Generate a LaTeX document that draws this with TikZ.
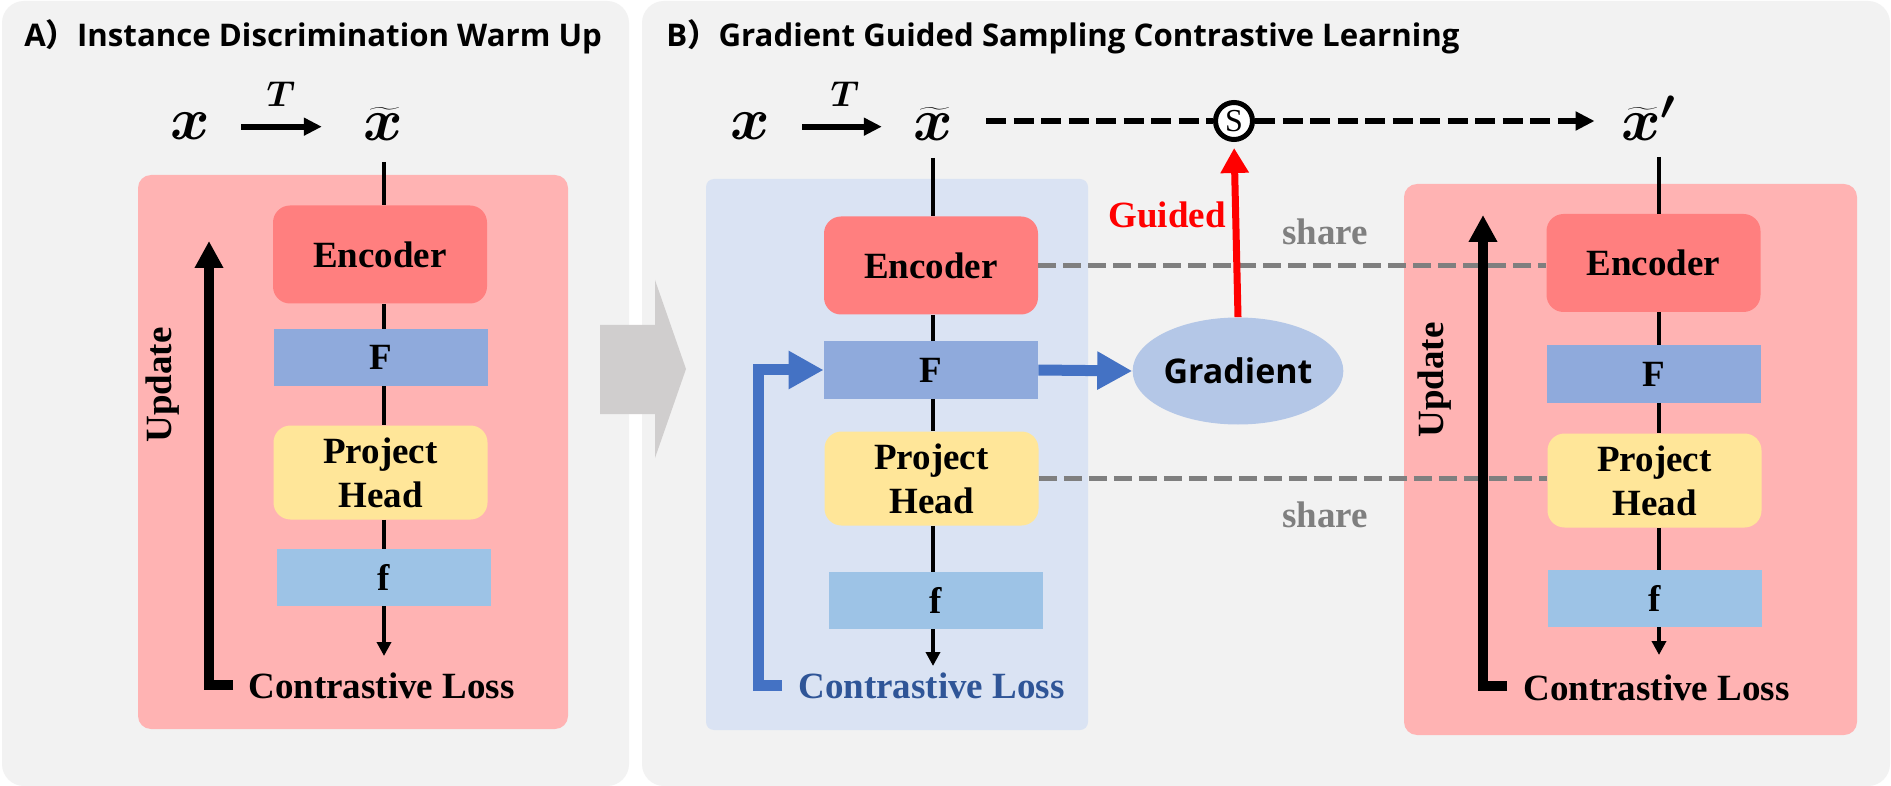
\RequirePackage{fix-cm}
\documentclass[tikz,border=0pt]{standalone}
\usepackage{fontspec}
\setmainfont{Liberation Serif}
\newfontfamily\opensans{Open Sans}
\newfontfamily\cjkfont{Noto Sans CJK SC}
\usetikzlibrary{arrows.meta,shapes.geometric}
\definecolor{panelgray}{HTML}{F2F2F2}
\definecolor{pinkbg}{HTML}{FFB3B3}
\definecolor{encred}{HTML}{FF7F7F}
\definecolor{featblue}{HTML}{8FAADC}
\definecolor{phyellow}{HTML}{FFE699}
\definecolor{outblue}{HTML}{9DC3E6}
\definecolor{bluepanel}{HTML}{DAE3F3}
\definecolor{gradblue}{HTML}{B4C7E7}
\definecolor{arrowblue}{HTML}{4472C4}
\definecolor{lossblue}{HTML}{2F5597}
\definecolor{sharegray}{HTML}{7F7F7F}
\definecolor{bigarrow}{HTML}{D0CECE}
\newcommand{\lblfont}{\bfseries\fontsize{18.5}{22}\selectfont}
\newcommand{\mathxfont}{\fontsize{30}{30}\selectfont\mathversion{bold}}
\tikzset{
 box/.style={minimum width=107pt, inner sep=0pt, font=\lblfont},
 encbox/.style={box, fill=encred, rounded corners=8.5pt, minimum height=49pt},
 featbox/.style={box, fill=featblue, minimum height=28.5pt},
 projbox/.style={box, fill=phyellow, rounded corners=8.5pt, minimum height=47pt, align=center},
 outbox/.style={box, fill=outblue, minimum height=28.5pt},
 vline/.style={line width=2pt, draw=black},
 downarrow/.style={vline, -{Triangle[width=7pt,length=7pt]}},
 losslabel/.style={font=\lblfont, anchor=base, inner sep=0pt},
 updarrow/.style={line width=5pt, line join=miter, -{Triangle[width=13.5pt,length=13.5pt]}},
 updlabel/.style={font=\lblfont, rotate=90, inner sep=0pt},
 mathx/.style={font=\mathxfont, anchor=base, inner sep=0pt},
 tlabel/.style={font=\fontsize{18}{18}\selectfont\mathversion{bold}, anchor=base, inner sep=0pt},
 tarrow/.style={line width=3pt, -{Triangle[width=8.5pt,length=9pt]}},
 titletext/.style={font=\opensans\bfseries\fontsize{15.6}{18}\selectfont, anchor=base west, inner sep=0pt},
 sharedash/.style={draw=sharegray, line width=2.5pt, dash pattern=on 9pt off 3.5pt},
 sharelabel/.style={font=\lblfont, text=sharegray, anchor=base, inner sep=0pt},
 blackdash/.style={line width=3pt, dash pattern=on 10pt off 3.75pt},
 bluearrow/.style={draw=arrowblue, line width=5.5pt, line join=miter, -{Triangle[width=18pt,length=17.5pt]}},
 redarrow/.style={draw=red, line width=3.5pt, -{Triangle[width=13.5pt,length=12.5pt]}},
}
\begin{document}
\begin{tikzpicture}[x=0.5pt,y=-0.5pt]
\useasboundingbox (0,0) rectangle (1891,786);
\fill[white] (0,0) rectangle (1891,786);
% panels
\fill[panelgray, rounded corners=11pt] (2,1) rectangle (629,786);
\fill[panelgray, rounded corners=11pt] (642,1) rectangle (1890,786);
\fill[pinkbg, rounded corners=6.5pt] (138,175) rectangle (568,729);
\fill[bluepanel, rounded corners=4pt] (706,179) rectangle (1088,730);
\fill[pinkbg, rounded corners=6.5pt] (1404,184) rectangle (1857,735);
% big arrow
\fill[bigarrow] (600,325) -- (655,325) -- (655,280) -- (686,369) -- (655,458) -- (655,414) -- (600,414) -- cycle;
% titles
\node[titletext] (titA) at (24,47) {A{\cjkfont ）}Instance Discrimination Warm Up};
\node[titletext] (titB) at (666,47) {B{\cjkfont ）}Gradient Guided Sampling Contrastive Learning};

% ---------------- panel A
\node[mathx] (xA) at (190,140) {$x$};
\node[mathx] (xtA) at (383,141) {$\widetilde{x}$};
\node[tlabel] (TA) at (281,107) {$T$};
\draw[tarrow, shorten <=15.5pt, shorten >=20.5pt] (xA.east) -- (xA.east -| xtA.west);
\coordinate (topA) at (384,162);
\node[encbox] (encA) at (380,254.5) {Encoder};
\node[featbox] (FA) at (381,357.5) {F};
\node[projbox] (phA) at (380.5,472.5) {Project\\Head};
\node[outbox] (fA) at (384,577.5) {f};
\coordinate (tipA) at (384,656);
\draw[vline] (topA) -- (topA |- encA.north);
\draw[vline] (encA.south -| topA) -- (FA.north -| topA);
\draw[vline] (FA.south -| topA) -- (phA.north -| topA);
\draw[vline] (phA.south -| topA) -- (fA.north -| topA);
\draw[downarrow] (fA.south -| topA) -- (tipA);
\node[losslabel] (lossA) at (381.5,698) {Contrastive Loss};
\coordinate (footA) at (233,685);
\coordinate (cornA) at (209,685);
\coordinate (headA) at (209,241);
\draw[updarrow] (footA) -- (cornA) -- (headA);
\node[updlabel] (updA) at (163,385) {Update};

% ---------------- panel B
\node[mathx] (xB) at (750,140) {$x$};
\node[mathx] (xtB) at (933,141) {$\widetilde{x}$};
\node[tlabel] (TB) at (845,107) {$T$};
\draw[tarrow, shorten <=16pt, shorten >=15.5pt] (xB.east) -- (xB.east -| xtB.west);
\coordinate (topB) at (933,158);
\node[encbox] (encB) at (931,265.5) {Encoder};
\node[featbox] (FB) at (931,370) {F};
\node[projbox] (phB) at (931.5,478.5) {Project\\Head};
\node[outbox] (fB) at (935.5,600.5) {f};
\coordinate (tipB) at (933,666);
\draw[vline] (topB) -- (topB |- encB.north);
\draw[vline] (encB.south -| topB) -- (FB.north -| topB);
\draw[vline] (FB.south -| topB) -- (phB.north -| topB);
\draw[vline] (phB.south -| topB) -- (fB.north -| topB);
\draw[downarrow] (fB.south -| topB) -- (tipB);
\node[losslabel, text=lossblue] (lossB) at (931.5,698) {Contrastive Loss};
\coordinate (footB) at (782,685);
\coordinate (cornB) at (758,685);
\coordinate (cornB2) at (758,370);
\draw[bluearrow] (footB) -- (cornB) -- (cornB2) -- (FB.west);

% ---------------- panel C
\node[mathx] (xtC) at (1648.5,141) {$\widetilde{x}'$};
\coordinate (topC) at (1659,157);
\node[encbox] (encC) at (1653.5,263) {Encoder};
\node[featbox] (FC) at (1654,374) {F};
\node[projbox] (phC) at (1654.5,480.5) {Project\\Head};
\node[outbox] (fC) at (1654.5,598.5) {f};
\coordinate (tipC) at (1659,655);
\draw[vline] (topC) -- (topC |- encC.north);
\draw[vline] (encC.south -| topC) -- (FC.north -| topC);
\draw[vline] (FC.south -| topC) -- (phC.north -| topC);
\draw[vline] (phC.south -| topC) -- (fC.north -| topC);
\draw[downarrow] (fC.south -| topC) -- (tipC);
\node[losslabel] (lossC) at (1656.5,700) {Contrastive Loss};

% ---------------- middle
\node[circle, draw, line width=2.5pt, fill=white, minimum size=18.5pt, inner sep=0pt,
      font=\fontsize{16}{16}\selectfont] (S) at (1234,121) {S};
\node[ellipse, fill=gradblue, minimum width=94.5pt, minimum height=53.5pt, inner sep=0pt,
      font=\opensans\bfseries\fontsize{17}{17}\selectfont] (grad) at (1238,371) {Gradient};
\draw[sharedash] (encB.east) -- (encB.east -| encC.west);
\draw[sharedash] (phB.east) -- (phB.east -| phC.west);
\node[sharelabel] (share1) at (1325,245) {share};
\node[sharelabel] (share2) at (1325,527) {share};
\coordinate (footC) at (1507,686);
\coordinate (cornC) at (1483,686);
\coordinate (headC) at (1483,215);
\draw[updarrow] (footC) -- (cornC) -- (headC);
\node[updlabel] (updC) at (1435,380) {Update};
\draw[blackdash, shorten <=16.5pt] (xtB.east |- S.west) -- (S.west);
\draw[blackdash, -{Triangle[width=9pt,length=9.5pt]}, shorten >=13pt] (S.east) -- (S.east -| xtC.west);
\draw[bluearrow] (FB.east) -- (grad.west);
\draw[redarrow, shorten >=3pt] (grad.north) -- (S.south);
\node[font=\lblfont, text=red, anchor=base east, inner sep=0pt] (guided) at (1226,228) {Guided};
\end{tikzpicture}
\end{document}
